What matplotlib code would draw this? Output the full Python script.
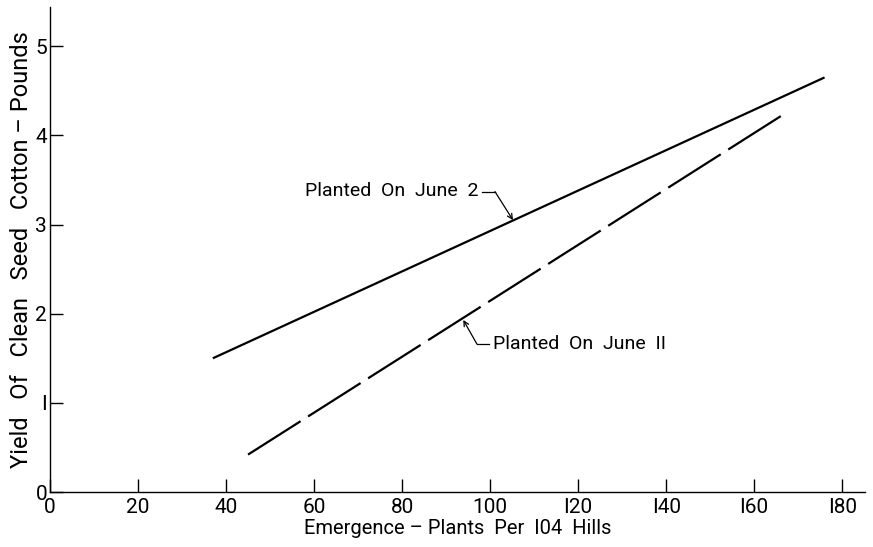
import matplotlib
matplotlib.use("Agg")
import matplotlib.pyplot as plt

# %% data

# Planted On June 2 (solid line)
june2_x = [37, 176]
june2_y = [1.50, 4.65]

# Planted On June 11 (dashed line)
june11_x = [45, 166.5]
june11_y = [0.42, 4.23]

x_ticks = [0, 20, 40, 60, 80, 100, 120, 140, 160, 180]
x_tick_labels = ["0", "20", "40", "60", "80", "100", "I20", "I40", "I60", "I80"]
y_ticks = [0, 1, 2, 3, 4, 5]
y_tick_labels = ["0", "I", "2", "3", "4", "5"]

# %% figure

plt.rcParams['font.family'] = ['Roboto', 'DejaVu Sans']

fig = plt.figure(figsize=(8.73, 5.47), dpi=100)
ax = fig.add_axes([0.0573, 0.1005, 0.9336, 0.8867])

ax.plot(june2_x, june2_y, color="black", lw=1.6, solid_capstyle="butt")
ax.plot(june11_x, june11_y, color="black", lw=1.6, dashes=(28, 4))

ax.set_xlim(0, 185.2)
ax.set_ylim(0, 5.44)

for side in ["top", "right"]:
    ax.spines[side].set_visible(False)
for side in ["left", "bottom"]:
    ax.spines[side].set_linewidth(1.0)

ax.set_xticks(x_ticks)
ax.set_xticklabels(x_tick_labels)
ax.set_yticks(y_ticks)
ax.set_yticklabels(y_tick_labels)
ax.tick_params(direction="in", length=9.5, width=1.0, labelsize=15)
ax.tick_params(axis="x", pad=4)
ax.tick_params(axis="y", pad=2)

ax.set_xlabel("Emergence \u2013 Plants  Per  I04  Hills", fontsize=14.5, labelpad=2)
ax.set_ylabel("Yield   Of   Clean   Seed   Cotton \u2013 Pounds", fontsize=17, labelpad=2)

# %% labels with leader lines

ax.text(97.3, 3.38, "Planted  On  June  2", fontsize=14, ha="right", va="center")
ax.plot([98.2, 101.1], [3.37, 3.37], color="black", lw=0.9)
ax.annotate("", xy=(105.2, 3.05), xytext=(101.1, 3.37),
            arrowprops=dict(arrowstyle="->", lw=0.9, color="black",
                            shrinkA=0, shrinkB=0, mutation_scale=9))

ax.text(100.7, 1.66, "Planted  On  June  II", fontsize=14, ha="left", va="center")
ax.plot([99.8, 97.0], [1.66, 1.66], color="black", lw=0.9)
ax.annotate("", xy=(93.9, 1.93), xytext=(97.0, 1.66),
            arrowprops=dict(arrowstyle="->", lw=0.9, color="black",
                            shrinkA=0, shrinkB=0, mutation_scale=9))

fig.savefig("out.png", dpi=100)
